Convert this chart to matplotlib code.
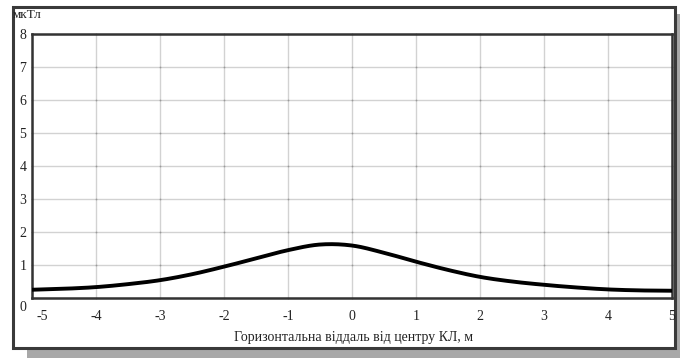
import matplotlib
matplotlib.use("Agg")
import matplotlib.pyplot as plt
from matplotlib.patches import Rectangle
import matplotlib.transforms as mtransforms
import numpy as np

# Data
distance_m = [-5.0, -4.5, -4.0, -3.5, -3.0, -2.5, -2.0, -1.5, -1.0, -0.5,
              0.0, 0.5, 1.0, 1.5, 2.0, 2.5, 3.0, 3.5, 4.0, 4.5, 5.0]
field_uT = [0.25, 0.28, 0.33, 0.42, 0.54, 0.72, 0.95, 1.20, 1.45, 1.62,
            1.59, 1.37, 1.10, 0.85, 0.64, 0.50, 0.40, 0.32, 0.26, 0.23, 0.22]
x_ticks = [-5, -4, -3, -2, -1, 0, 1, 2, 3, 4, 5]
y_ticks = [0, 1, 2, 3, 4, 5, 6, 7, 8]
x_label = "Горизонтальна віддаль від центру КЛ, м"
y_unit = "мкТл"

plt.rcParams['font.family'] = ['Liberation Serif', 'DejaVu Serif']

W, H = 680, 358
fig = plt.figure(figsize=(W / 100, H / 100), dpi=100)
fig.patch.set_facecolor('white')


def fx(px):
    return px / W


def fy(py):
    return 1 - py / H


# shadow and outer frame
fig.patches.append(Rectangle((fx(27), fy(358)), fx(680) - fx(27), fy(350) - fy(358),
                             transform=fig.transFigure, facecolor='#a8a8a8',
                             edgecolor='none', zorder=0))
fig.patches.append(Rectangle((fx(675), fy(358)), fx(680) - fx(675), fy(14) - fy(358),
                             transform=fig.transFigure, facecolor='#a8a8a8',
                             edgecolor='none', zorder=0))
fig.patches.append(Rectangle((fx(13), fy(348)), fx(675) - fx(13), fy(7) - fy(348),
                             transform=fig.transFigure, facecolor='white',
                             edgecolor='#3a3a3a', linewidth=2.2, zorder=1))

ax = fig.add_axes([fx(32), fy(298), fx(672) - fx(32), fy(34) - fy(298)])
ax.set_zorder(2)
ax.set_facecolor('white')

xs = np.array(distance_m)
ys = np.array(field_uT)
xf = np.linspace(xs[0], xs[-1], 400)


def cubic_hermite(x, y, xq):
    n = len(x)
    m = np.zeros(n)
    for i in range(n):
        if i == 0:
            m[i] = (y[1] - y[0]) / (x[1] - x[0])
        elif i == n - 1:
            m[i] = (y[-1] - y[-2]) / (x[-1] - x[-2])
        else:
            m[i] = (y[i + 1] - y[i - 1]) / (x[i + 1] - x[i - 1])
    out = np.empty_like(xq)
    for k, q in enumerate(xq):
        i = min(max(np.searchsorted(x, q) - 1, 0), n - 2)
        h = x[i + 1] - x[i]
        t = (q - x[i]) / h
        h00 = 2 * t**3 - 3 * t**2 + 1
        h10 = t**3 - 2 * t**2 + t
        h01 = -2 * t**3 + 3 * t**2
        h11 = t**3 - t**2
        out[k] = h00 * y[i] + h10 * h * m[i] + h01 * y[i + 1] + h11 * h * m[i + 1]
    return out


yf = cubic_hermite(xs, ys, xf)
ax.plot(xf, yf, color='black', linewidth=2.8, solid_capstyle='butt', zorder=3)

ax.set_xlim(x_ticks[0], x_ticks[-1])
ax.set_ylim(y_ticks[0], y_ticks[-1])
ax.set_xticks(x_ticks)
ax.set_yticks(y_ticks)
ax.set_xticklabels([str(v) for v in x_ticks])
ax.set_yticklabels([str(v) for v in y_ticks])
ax.grid(True, color='#d2d2d2', linewidth=1.0, zorder=1)
ax.set_axisbelow(True)

# small dots at grid intersections
gx, gy = np.meshgrid(x_ticks, y_ticks)
ax.plot(gx.ravel(), gy.ravel(), linestyle='none', marker='o', markersize=1.3,
        color='#9a9a9a', markeredgewidth=0, zorder=2, clip_on=False)

ax.tick_params(axis='both', length=0, labelsize=10, colors='#222222')
ax.tick_params(axis='x', pad=9)
ax.tick_params(axis='y', pad=4)

for s in ['left', 'bottom', 'top', 'right']:
    ax.spines[s].set_color('#333333')
    ax.spines[s].set_linewidth(1.8)

fig.canvas.draw()
xl = ax.get_xticklabels()
xl[0].set_transform(xl[0].get_transform() + mtransforms.ScaledTranslation(10 / 100, 0, fig.dpi_scale_trans))
yl = ax.get_yticklabels()
yl[0].set_transform(yl[0].get_transform() + mtransforms.ScaledTranslation(0, -8 / 100, fig.dpi_scale_trans))

fig.text(fx(13), fy(15), y_unit, fontsize=9.5, ha='left', va='center', color='#222222')
fig.text(fx(354), fy(338), x_label, fontsize=10, ha='center', va='center', color='#222222')

fig.savefig('out.png', dpi=100, facecolor='white')
